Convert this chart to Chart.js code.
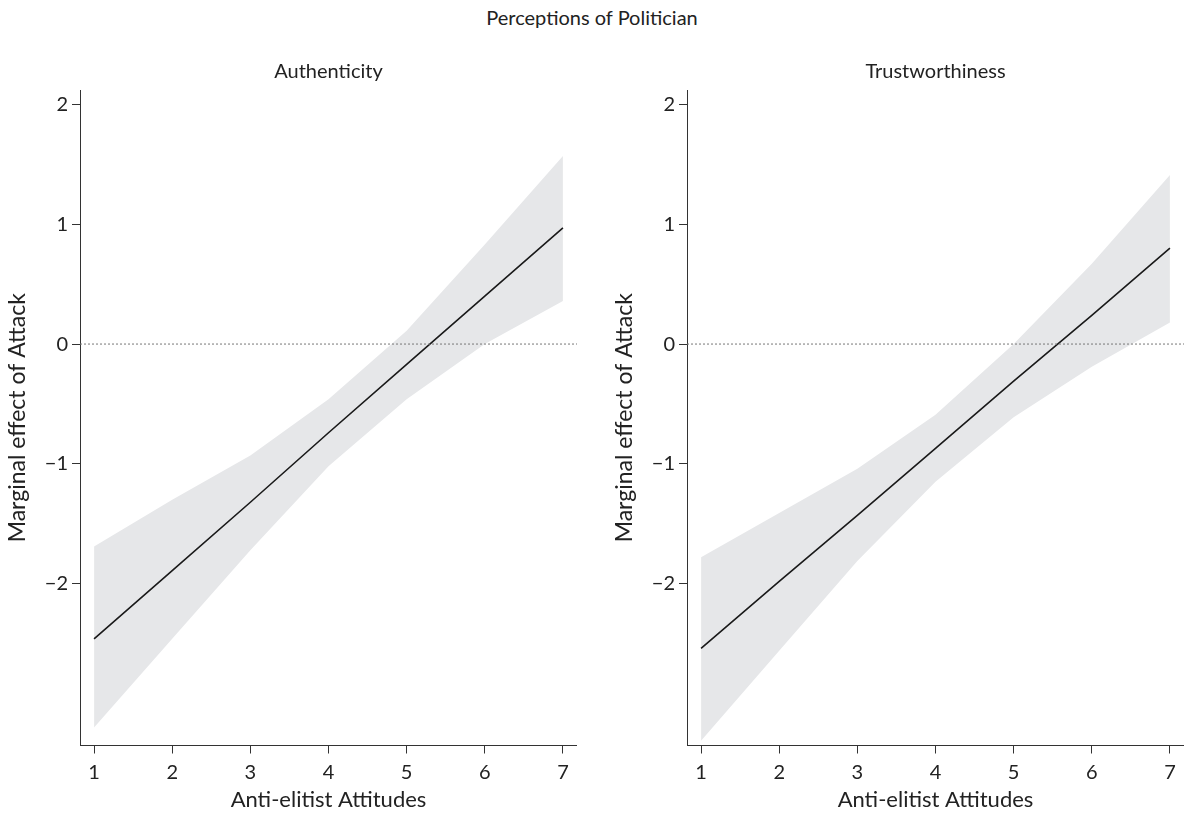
<!DOCTYPE html>
<html>
<head>
<meta charset="utf-8">
<script src="https://cdn.jsdelivr.net/npm/chart.js@4.4.1/dist/chart.umd.min.js"></script>
<style>
  body { margin: 0; background: #fff; }
  #wrap { position: relative; width: 1184px; height: 814px; }
  #mainTitle { position: absolute; left: 0; top: 5px; width: 1184px; text-align: center;
               font-family: Lato, sans-serif; font-size: 20px; color: #222; }
  canvas { position: absolute; top: 0; }
</style>
</head>
<body>
<div id="wrap">
  <div id="mainTitle">Perceptions of Politician</div>
  <canvas id="authChart" width="577" height="814" style="left:0px"></canvas>
  <canvas id="trustChart" width="577" height="814" style="left:607px"></canvas>
</div>
<script>
// values
const attitudes = [1, 2, 3, 4, 5, 6, 7];

const authEffect = [-2.46, -1.89, -1.32, -0.74, -0.17, 0.40, 0.97];
const authUpper  = [-1.69, -1.30, -0.93, -0.46, 0.11, 0.83, 1.57];
const authLower  = [-3.20, -2.46, -1.72, -1.02, -0.46, 0.00, 0.36];

const trustEffect = [-2.54, -1.98, -1.43, -0.87, -0.31, 0.24, 0.80];
const trustUpper  = [-1.78, -1.41, -1.04, -0.59, 0.00, 0.67, 1.41];
const trustLower  = [-3.31, -2.56, -1.81, -1.15, -0.61, -0.19, 0.18];

const xTicks = [1, 2, 3, 4, 5, 6, 7];
const yTicks = [-2, -1, 0, 1, 2];

const tickFont = { family: 'Lato', size: 20 };

// dotted line at zero
const zeroLine = {
    id: 'zeroLine',
    afterDatasetsDraw(chart) {
        const ctx = chart.ctx;
        const area = chart.chartArea;
        const y = chart.scales.y.getPixelForValue(0);
        ctx.save();
        ctx.strokeStyle = '#777';
        ctx.lineWidth = 1;
        ctx.setLineDash([2, 2]);
        ctx.beginPath();
        ctx.moveTo(area.left, y);
        ctx.lineTo(area.right, y);
        ctx.stroke();
        ctx.restore();
    }
};

function toPoints(vals) {
    return attitudes.map(function(x, i) { return { x: x, y: vals[i] }; });
}

function makeChart(id, title, effect, upper, lower) {
    let ctx = document.getElementById(id).getContext('2d');
    return new Chart(ctx, {
        type: 'line',
        data: {
            datasets: [{
                data: toPoints(effect),
                borderColor: '#1a1a1a',
                borderWidth: 1.6,
                pointRadius: 0,
                fill: false,
                order: 0
            }, {
                data: toPoints(upper),
                borderWidth: 0,
                borderColor: 'rgba(0,0,0,0)',
                pointRadius: 0,
                backgroundColor: '#e6e7e9',
                fill: '+1',
                order: 1
            }, {
                data: toPoints(lower),
                borderWidth: 0,
                borderColor: 'rgba(0,0,0,0)',
                pointRadius: 0,
                fill: false,
                order: 1
            }]
        },
        options: {
            responsive: false,
            animation: false,
            layout: { padding: 0 },
            plugins: {
                legend: { display: false },
                tooltip: { enabled: false },
                title: {
                    display: true,
                    text: title,
                    fullSize: false,
                    color: '#222',
                    font: { family: 'Lato', size: 20, weight: 'normal' },
                    padding: { top: 60, bottom: 6 }
                }
            },
            scales: {
                x: {
                    type: 'linear',
                    min: 0.82,
                    max: 7.18,
                    afterFit: function(scale) { scale.height = 68.5; },
                    afterBuildTicks: function(scale) {
                        scale.ticks = xTicks.map(function(v) { return { value: v }; });
                    },
                    grid: { drawOnChartArea: false, drawTicks: true, tickLength: 8, color: '#333' },
                    border: { display: true, color: '#333', width: 1 },
                    ticks: { color: '#222', font: tickFont, padding: 7, maxRotation: 0 },
                    title: {
                        display: true,
                        text: 'Anti-elitist Attitudes',
                        color: '#222',
                        font: { family: 'Lato', size: 22 },
                        padding: { top: 0, bottom: 1 }
                    }
                },
                y: {
                    min: -3.35,
                    max: 2.12,
                    afterFit: function(scale) { scale.width = 80; },
                    afterBuildTicks: function(scale) {
                        scale.ticks = yTicks.map(function(v) { return { value: v }; });
                    },
                    grid: { drawOnChartArea: false, drawTicks: true, tickLength: 8, color: '#333' },
                    border: { display: true, color: '#333', width: 1 },
                    ticks: {
                        color: '#222',
                        font: tickFont,
                        padding: 4,
                        callback: function(v) { return v < 0 ? '\u2212' + Math.abs(v) : String(v); }
                    },
                    title: {
                        display: true,
                        text: 'Marginal effect of Attack',
                        color: '#222',
                        font: { family: 'Lato', size: 23 },
                        padding: { top: 4, bottom: 0 }
                    }
                }
            }
        },
        plugins: [zeroLine]
    });
}

makeChart('authChart', 'Authenticity', authEffect, authUpper, authLower);
makeChart('trustChart', 'Trustworthiness', trustEffect, trustUpper, trustLower);
</script>
</body>
</html>
